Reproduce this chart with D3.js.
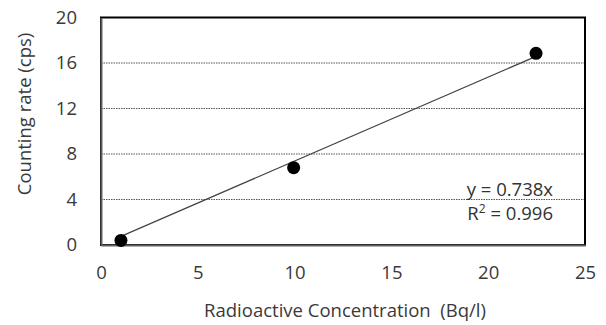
<!DOCTYPE html>
<html>
<head>
<meta charset="utf-8">
<script src="https://cdn.jsdelivr.net/npm/d3@7"></script>
<style>
  body { margin: 0; background: #fff; }
  text { font-family: "Open Sans", "Noto Sans", sans-serif; }
</style>
</head>
<body>
<script>
// data
const concentration = [1.03, 9.95, 22.47];
const countRate = [0.4, 6.8, 16.85];
const slope = 0.738;
const r2 = 0.996;
const xTicks = [0, 5, 10, 15, 20, 25];
const yTicks = [0, 4, 8, 12, 16, 20];

const width = 606, height = 325;
const marginTop = 17.5, marginRight = 21, marginBottom = 80, marginLeft = 101;
const chartWidth = width - marginLeft - marginRight;
const chartHeight = height - marginTop - marginBottom;
const fontSize = 18.5;

const svg = d3.select("body").append("svg")
  .attr("width", width).attr("height", height);

const xScale = d3.scaleLinear().domain([0, 25]).range([0, chartWidth]);
const yScale = d3.scaleLinear().domain([0, 20]).range([chartHeight, 0]);

const g = svg.append("g")
  .attr("transform", "translate(" + marginLeft + "," + marginTop + ")");

// grid lines
g.selectAll(".grid")
  .data(yTicks.filter(d => d > 0 && d < 20))
  .join("line")
  .attr("x1", 0).attr("x2", chartWidth)
  .attr("y1", d => yScale(d)).attr("y2", d => yScale(d))
  .attr("stroke", "#555").attr("stroke-width", 1)
  .attr("stroke-dasharray", "1.5,1");

// plot frame
g.append("rect")
  .attr("x", 0).attr("y", 0).attr("width", chartWidth).attr("height", chartHeight)
  .attr("fill", "none").attr("stroke", "#000").attr("stroke-width", 2);

// axes
const xAxis = g.append("g")
  .attr("transform", "translate(0," + chartHeight + ")")
  .call(d3.axisBottom(xScale).tickValues(xTicks).tickSize(0).tickPadding(21));
const yAxis = g.append("g")
  .call(d3.axisLeft(yScale).tickValues(yTicks).tickSize(0).tickPadding(24));
[xAxis, yAxis].forEach(a => {
  a.select(".domain").attr("stroke", "#606060").attr("stroke-width", 2);
  a.selectAll("text").attr("font-size", fontSize).attr("fill", "#3a3a3a")
    .attr("font-family", "'Open Sans', sans-serif");
});

// trend line (through origin)
const xr = d3.extent(concentration);
g.append("line")
  .attr("x1", xScale(xr[0])).attr("y1", yScale(slope * xr[0]))
  .attr("x2", xScale(xr[1])).attr("y2", yScale(slope * xr[1]))
  .attr("stroke", "#444").attr("stroke-width", 1.3);

// points
g.selectAll(".pt")
  .data(concentration.map((c, i) => [c, countRate[i]]))
  .join("circle")
  .attr("cx", d => xScale(d[0])).attr("cy", d => yScale(d[1]))
  .attr("r", 6.5).attr("fill", "#000");

// equation labels
const eq = g.append("g").attr("font-size", fontSize).attr("text-anchor", "end");
eq.append("text").attr("x", 553 - marginLeft).attr("y", 196 - marginTop)
  .attr("fill", "#333").text("y = " + slope + "x");
const r2t = eq.append("text").attr("x", 553 - marginLeft).attr("y", 220 - marginTop)
  .attr("fill", "#333");
r2t.append("tspan").text("R");
r2t.append("tspan").attr("font-size", 12).attr("dy", -7).text("2");
r2t.append("tspan").attr("dy", 7).text(" = " + r2);

// axis titles
svg.append("text")
  .attr("x", 345).attr("y", 317)
  .attr("text-anchor", "middle").attr("font-size", fontSize).attr("fill", "#3a3a3a")
  .text("Radioactive Concentration\u00a0\u00a0(Bq/l)");
svg.append("text")
  .attr("transform", "translate(31,114) rotate(-90)")
  .attr("text-anchor", "middle").attr("font-size", fontSize).attr("fill", "#3a3a3a")
  .text("Counting rate\u00a0(cps)");
</script>
</body>
</html>
